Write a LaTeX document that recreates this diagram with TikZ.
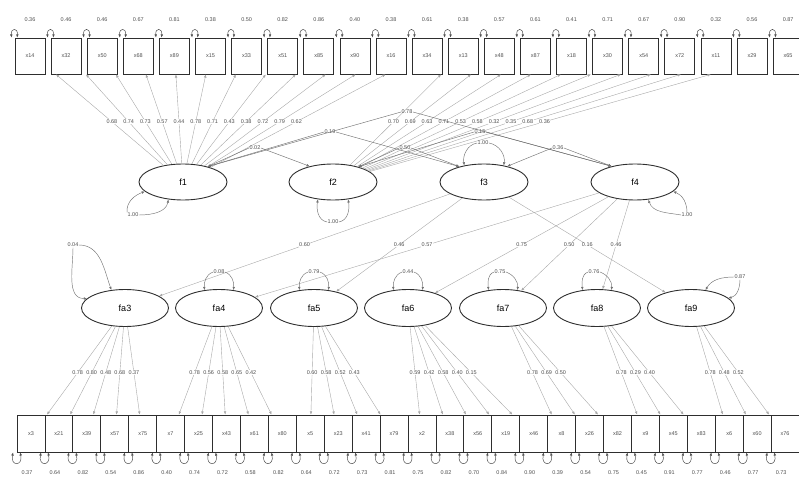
\documentclass[tikz,border=0pt]{standalone}
\usepackage{fontspec}
\setmainfont{Liberation Sans}
\usetikzlibrary{arrows.meta,shapes.geometric,calc}
\definecolor{semline}{HTML}{A8A8A8}
\definecolor{semdark}{HTML}{505050}
\definecolor{semedge}{HTML}{2E2E2E}
\tikzset{
  >={Latex[length=3.2pt,width=2.6pt]},
  est/.style={font=\fontsize{5.5}{6}\selectfont,text=semdark,inner sep=0.4pt},
  obs/.style={draw=semedge,line width=0.8pt,minimum width=30pt,minimum height=36pt,
              inner sep=0pt,font=\fontsize{5.5}{6}\selectfont,text=semdark},
  obsb/.style={obs,minimum width=27.93pt,minimum height=37pt},
  latent/.style={draw=semedge,line width=0.9pt,ellipse,minimum width=88pt,
                 minimum height=36pt,inner sep=0pt,font=\fontsize{9}{10}\selectfont},
  latentb/.style={latent,minimum width=87pt,minimum height=37pt},
  load/.style={->,line width=0.4pt,draw=semline},
  cov/.style={line width=0.45pt,draw=semdark!80},
  errloop/.style={<->,line width=0.5pt,draw=semdark},
}
\begin{document}
\begin{tikzpicture}[x=1pt,y=1pt]
  \useasboundingbox (0,0) rectangle (799,-481);

  % indicator rows
  \foreach \nm [count=\i from 0] in {x14,x32,x50,x68,x89,x15,x33,x51,x85,x90,x16,
      x34,x13,x48,x87,x18,x30,x54,x72,x11,x29,x65}
    \node[obs] (t\i) at ({30+36.1*\i},-56) {\nm};
  \foreach \nm [count=\i from 0] in {x3,x21,x39,x57,x75,x7,x25,x43,x61,x80,x5,x23,
      x41,x79,x2,x38,x56,x19,x46,x8,x26,x82,x9,x45,x83,x6,x60,x76}
    \node[obsb] (b\i) at ({30.97+27.93*\i},-433.5) {\nm};

  % error variances
  \foreach \v [count=\i from 0] in {0.36,0.46,0.46,0.67,0.81,0.38,0.50,0.82,0.86,
      0.40,0.38,0.61,0.38,0.57,0.61,0.41,0.71,0.67,0.90,0.32,0.56,0.87} {
    \node[est] (tv\i) at ({30+36.1*\i},-20) {\v};
    \draw[errloop] ([xshift=-3pt]t\i.north west) .. controls +(-1,10) and +(1,10)
      .. ([xshift=2.5pt]t\i.north west);
  }
  \foreach \v [count=\i from 0] in {0.37,0.64,0.82,0.54,0.86,0.40,0.74,0.72,0.58,
      0.82,0.64,0.72,0.73,0.81,0.75,0.82,0.70,0.84,0.90,0.39,0.54,0.75,0.45,0.91,
      0.77,0.46,0.77,0.73} {
    \node[est] (bv\i) at ({27+27.93*\i},-473) {\v};
    \draw[errloop] ([xshift=-3.5pt]b\i.south west) .. controls +(-3,-14) and +(3,-14)
      .. ([xshift=3.5pt]b\i.south west);
  }

  % latent factors
  \node[latent] (f1) at (183,-182) {f1};
  \node[latent] (f2) at (333,-182) {f2};
  \node[latent] (f3) at (484,-182) {f3};
  \node[latent] (f4) at (635,-182) {f4};
  \node[latentb] (fa3) at (125,-308) {fa3};
  \node[latentb] (fa4) at (219,-308) {fa4};
  \node[latentb] (fa5) at (314,-308) {fa5};
  \node[latentb] (fa6) at (408,-308) {fa6};
  \node[latentb] (fa7) at (503,-308) {fa7};
  \node[latentb] (fa8) at (597,-308) {fa8};
  \node[latentb] (fa9) at (691,-308) {fa9};

  % loadings on the upper row
  \foreach \v [count=\i from 0] in {0.68,0.74,0.73,0.57,0.44,0.78,0.71,0.43,0.38,
      0.72,0.79,0.62} {
    \coordinate (tip) at ($(f1 |- t\i.south)!0.83!(t\i.south)$);
    \draw[load] (f1) -- (tip);
    \path (f1.center) -- (tip) node[est,pos=0.56,fill=white] {\v};
  }
  \foreach \v [count=\i from 12] in {0.70,0.69,0.63,0.71,0.53,0.58,0.32,0.35,
      0.68,0.36} {
    \coordinate (tip) at ($(f2 |- t\i.south)!0.83!(t\i.south)$);
    \draw[load] (f2) -- (tip);
    \path (f2.center) -- (tip) node[est,pos=0.56,fill=white] {\v};
  }

  % loadings on the lower row
  \foreach \v [count=\i from 0] in {0.78,0.80,0.48,0.68,0.37} {
    \coordinate (tip) at ($(fa3 |- b\i.north)!0.83!(b\i.north)$);
    \draw[load] (fa3) -- (tip);
    \path (fa3.center) -- (tip) node[est,pos=0.607,fill=white] {\v};
  }
  \foreach \v [count=\i from 5] in {0.78,0.56,0.58,0.65,0.42} {
    \coordinate (tip) at ($(fa4 |- b\i.north)!0.83!(b\i.north)$);
    \draw[load] (fa4) -- (tip);
    \path (fa4.center) -- (tip) node[est,pos=0.607,fill=white] {\v};
  }
  \foreach \v [count=\i from 10] in {0.60,0.58,0.52,0.43} {
    \coordinate (tip) at ($(fa5 |- b\i.north)!0.83!(b\i.north)$);
    \draw[load] (fa5) -- (tip);
    \path (fa5.center) -- (tip) node[est,pos=0.607,fill=white] {\v};
  }
  \foreach \v [count=\i from 14] in {0.59,0.42,0.58,0.40,0.15} {
    \coordinate (tip) at ($(fa6 |- b\i.north)!0.83!(b\i.north)$);
    \draw[load] (fa6) -- (tip);
    \path (fa6.center) -- (tip) node[est,pos=0.607,fill=white] {\v};
  }
  \foreach \v [count=\i from 19] in {0.78,0.69,0.50} {
    \coordinate (tip) at ($(fa7 |- b\i.north)!0.83!(b\i.north)$);
    \draw[load] (fa7) -- (tip);
    \path (fa7.center) -- (tip) node[est,pos=0.607,fill=white] {\v};
  }
  \foreach \v [count=\i from 22] in {0.78,0.29,0.40} {
    \coordinate (tip) at ($(fa8 |- b\i.north)!0.83!(b\i.north)$);
    \draw[load] (fa8) -- (tip);
    \path (fa8.center) -- (tip) node[est,pos=0.607,fill=white] {\v};
  }
  \foreach \v [count=\i from 25] in {0.78,0.48,0.52} {
    \coordinate (tip) at ($(fa9 |- b\i.north)!0.83!(b\i.north)$);
    \draw[load] (fa9) -- (tip);
    \path (fa9.center) -- (tip) node[est,pos=0.607,fill=white] {\v};
  }

  % second-order paths
  \draw[load] (f3) -- node[est,fill=white] {0.60} (fa3);
  \draw[load] (f3) -- node[est,fill=white] {0.46} (fa5);
  \draw[load] (f3) -- node[est,fill=white] {0.16} (fa9);
  \draw[load] (f4) -- node[est,fill=white] {0.57} (fa4);
  \draw[load] (f4) -- node[est,fill=white] {0.75} (fa6);
  \draw[load] (f4) -- node[est,fill=white] {0.50} (fa7);
  \draw[load] (f4) -- node[est,fill=white] {0.46} (fa8);

  % factor covariances
  \node[est] (c12) at (255,-148) {0.02};
  \node[est] (c13) at (330,-132) {0.19};
  \node[est] (c14) at (407,-112) {0.78};
  \node[est] (c23) at (405,-148) {0.50};
  \node[est] (c24) at (480,-132) {0.15};
  \node[est] (c34) at (558,-148) {0.36};
  \draw[cov,<-] (f1.32) -- (c12.west);  \draw[cov,->] (c12.east) -- (f2.146);
  \draw[cov,<-] (f1.32) -- (c13.west);  \draw[cov,->] (c13.east) -- (f3.148);
  \draw[cov,<-] (f1.32) -- (c14.west);  \draw[cov,->] (c14.east) -- (f4.146);
  \draw[cov,<-] (f2.31) -- (c23.west);  \draw[cov,->] (c23.east) -- (f3.148);
  \draw[cov,<-] (f2.31) -- (c24.west);  \draw[cov,->] (c24.east) -- (f4.146);
  \draw[cov,<-] (f3.34) -- (c34.west);  \draw[cov,->] (c34.east) -- (f4.146);

  % factor variances
  \node[est] (f1v) at (133,-215) {1.00};
  \draw[cov,->] (f1v.north west) to[out=95,in=200] (f1.194);
  \draw[cov,->] (f1v.east) to[out=0,in=260] (f1.230);
  \node[est] (f2v) at (333,-222) {1.00};
  \draw[cov,->] (f2v.west) to[out=170,in=260] (f2.229);
  \draw[cov,->] (f2v.east) to[out=10,in=280] (f2.311);
  \node[est] (f3v) at (483,-143) {1.00};
  \draw[cov,->] (f3v.west) to[out=190,in=100] (f3.140);
  \draw[cov,->] (f3v.east) to[out=-10,in=80] (f3.40);
  \node[est] (f4v) at (687,-215) {1.00};
  \draw[cov,->] (f4v.west) to[out=170,in=-70] (f4.307);
  \draw[cov,->] (f4v.north) to[out=90,in=-20] (f4.346);

  % residual variances of first-order factors
  \node[est] (fa3v) at (73,-245) {0.04};
  \draw[cov,->] (fa3v.east) to[out=0,in=110] (fa3.127);
  \draw[cov,->] (fa3v.south) to[out=-90,in=180] (fa3.166);
  \node[est] (fa4v) at (219,-272) {0.08};
  \draw[cov,->] (fa4v.west) to[out=200,in=95] (fa4.129);
  \draw[cov,->] (fa4v.east) to[out=-20,in=85] (fa4.51);
  \node[est] (fa5v) at (314,-272) {0.79};
  \draw[cov,->] (fa5v.west) to[out=200,in=95] (fa5.129);
  \draw[cov,->] (fa5v.east) to[out=-20,in=85] (fa5.51);
  \node[est] (fa6v) at (408,-272) {0.44};
  \draw[cov,->] (fa6v.west) to[out=200,in=95] (fa6.129);
  \draw[cov,->] (fa6v.east) to[out=-20,in=85] (fa6.51);
  \node[est] (fa7v) at (500,-272) {0.75};
  \draw[cov,->] (fa7v.west) to[out=200,in=95] (fa7.129);
  \draw[cov,->] (fa7v.east) to[out=-20,in=85] (fa7.51);
  \node[est] (fa8v) at (594,-272) {0.76};
  \draw[cov,->] (fa8v.west) to[out=200,in=95] (fa8.129);
  \draw[cov,->] (fa8v.east) to[out=-20,in=85] (fa8.51);
  \node[est] (fa9v) at (740,-277) {0.87};
  \draw[cov,->] (fa9v.west) to[out=180,in=60] (fa9.51);
  \draw[cov,->] (fa9v.south) to[out=-90,in=10] (fa9.15);
\end{tikzpicture}
\end{document}
